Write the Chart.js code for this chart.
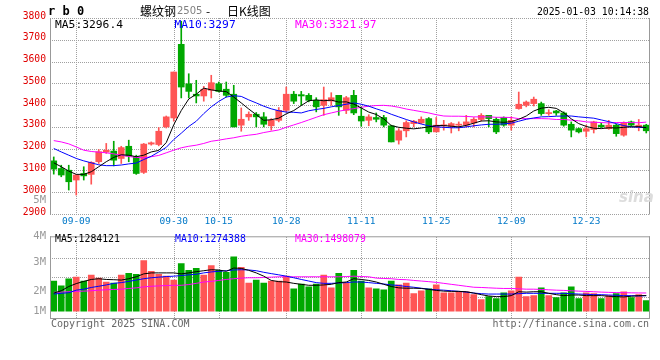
<!DOCTYPE html>
<html>
<head>
<meta charset="utf-8">
<title>rb0 螺纹钢2505 日K线图</title>
<script src="https://cdn.jsdelivr.net/npm/chart.js@4.4.1/dist/chart.umd.min.js"></script>
<style>
  body { margin: 0; background: #fff; }
  #cadre { position: relative; width: 660px; height: 360px; overflow: hidden; }
  #boxK { position: absolute; left: 0; top: 0; width: 660px; height: 232px; }
  #boxV { position: absolute; left: 0; top: 226px; width: 660px; height: 114px; }
  .txt { position: absolute; white-space: pre; font-family: 'DejaVu Sans Mono', monospace; }
</style>
</head>
<body>
<div id="cadre">
  <div id="boxK"><canvas id="graphK"></canvas></div>
  <div id="boxV"><canvas id="graphV"></canvas></div>

  <!-- En-tête -->
  <div class="txt" style="left:48px;top:5px;font-size:12px;line-height:12px;font-weight:bold">r b 0</div>
  <div class="txt" style="left:140px;top:4px;font:12px/14px 'Noto Sans CJK SC'">螺纹钢</div>
  <div class="txt" style="left:177px;top:6px;font:10px/10px 'DejaVu Sans';color:#808080">2505</div>
  <div class="txt" style="left:206px;top:4px;font:12px/14px 'Noto Sans CJK SC'">-</div>
  <div class="txt" style="left:227px;top:4px;font:12px/14px 'Noto Sans CJK SC'">日K线图</div>
  <div class="txt" style="right:11px;top:6.5px;font-size:9.8px;line-height:9.8px">2025-01-03 10:14:38</div>

  <!-- Légendes des moyennes mobiles -->
  <div class="txt" style="left:55px;top:18.6px;font-size:11.3px;line-height:11.3px;color:#000">MA5:3296.4</div>
  <div class="txt" style="left:174.5px;top:18.6px;font-size:11.3px;line-height:11.3px;color:#0000ff">MA10:3297</div>
  <div class="txt" style="left:295px;top:18.6px;font-size:11.3px;line-height:11.3px;color:#ff00ff">MA30:3321.97</div>
  <div class="txt" style="left:55px;top:234.3px;font-size:9.8px;line-height:9.8px;color:#000">MA5:1284121</div>
  <div class="txt" style="left:175px;top:234.3px;font-size:9.8px;line-height:9.8px;color:#0000ff">MA10:1274388</div>
  <div class="txt" style="left:295px;top:234.3px;font-size:9.8px;line-height:9.8px;color:#ff00ff">MA30:1498079</div>

  <div class="txt" style="right:614px;top:194px;font-size:10.5px;line-height:10.5px;color:#999">5M</div>
  <div class="txt" style="left:619px;top:190px;font:italic bold 15px/15px 'DejaVu Sans';color:#dcdcdc">sina</div>

  <!-- Pied de page -->
  <div class="txt" style="left:51px;top:318.7px;font-size:10px;line-height:10px;color:#666">Copyright 2025 SINA.COM</div>
  <div class="txt" style="right:11px;top:318.7px;font-size:10px;line-height:10px;color:#666">http://finance.sina.com.cn</div>
</div>

<script>
// Données (rb2505, séances du 09-04 au 01-03)
const dates = ['09-04','09-05','09-06','09-09','09-10','09-11','09-12','09-13','09-18','09-19',
  '09-20','09-23','09-24','09-25','09-26','09-27','09-30','10-08','10-09','10-10',
  '10-11','10-14','10-15','10-16','10-17','10-18','10-21','10-22','10-23','10-24',
  '10-25','10-28','10-29','10-30','10-31','11-01','11-04','11-05','11-06','11-07',
  '11-08','11-11','11-12','11-13','11-14','11-15','11-18','11-19','11-20','11-21',
  '11-22','11-25','11-26','11-27','11-28','11-29','12-02','12-03','12-04','12-05',
  '12-06','12-09','12-10','12-11','12-12','12-13','12-16','12-17','12-18','12-19',
  '12-20','12-23','12-24','12-25','12-26','12-27','12-30','12-31','01-02','01-03'];

const ouv = [3144,3109,3101,3056,3086,3082,3140,3184,3189,3155,
  3211,3163,3091,3221,3219,3300,3341,3679,3498,3450,
  3442,3468,3498,3473,3450,3308,3346,3358,3346,3305,
  3330,3376,3450,3448,3445,3422,3399,3419,3445,3376,
  3445,3349,3330,3343,3343,3305,3239,3282,3315,3318,
  3338,3277,3305,3303,3308,3308,3318,3334,3353,3335,
  3343,3308,3384,3399,3407,3407,3361,3373,3364,3312,
  3292,3280,3288,3308,3292,3308,3262,3323,3300,3308];

const haut = [3162,3124,3124,3082,3117,3140,3196,3224,3234,3211,
  3239,3170,3224,3231,3297,3350,3552,3785,3544,3514,
  3486,3537,3506,3506,3491,3387,3369,3366,3366,3338,
  3389,3483,3463,3463,3453,3434,3483,3457,3445,3440,
  3468,3392,3356,3364,3353,3308,3292,3328,3330,3346,
  3343,3343,3330,3320,3323,3353,3343,3361,3353,3343,
  3346,3346,3460,3419,3437,3414,3379,3376,3369,3323,
  3295,3308,3326,3318,3330,3312,3323,3327,3334,3312];

const bas = [3083,3071,3010,2987,3056,3037,3132,3178,3121,3132,
  3140,3082,3086,3216,3213,3295,3326,3433,3433,3410,
  3418,3433,3460,3437,3300,3280,3330,3300,3300,3285,
  3323,3369,3407,3399,3415,3369,3353,3399,3353,3361,
  3356,3303,3305,3323,3300,3231,3221,3254,3300,3315,
  3269,3277,3285,3272,3282,3300,3300,3327,3300,3269,
  3303,3285,3381,3392,3396,3353,3353,3353,3303,3254,
  3272,3254,3272,3297,3289,3257,3257,3303,3282,3272];

const clot = [3106,3079,3048,3079,3075,3137,3186,3193,3147,3205,
  3166,3086,3221,3227,3280,3346,3552,3483,3463,3442,
  3473,3503,3463,3445,3300,3335,3358,3346,3312,3330,
  3376,3450,3418,3442,3422,3392,3425,3434,3392,3434,
  3364,3327,3346,3335,3308,3231,3282,3320,3326,3335,
  3277,3308,3308,3315,3312,3323,3335,3353,3338,3277,
  3308,3330,3404,3414,3427,3361,3364,3364,3308,3285,
  3277,3292,3323,3300,3308,3269,3320,3308,3308,3282];

// Moyennes mobiles du prix
const ma5 = [3135,3117,3097,3082,3082,3094,3117,3140,3160,3172,
  3170,3163,3170,3185,3192,3228,3310,3375,3428,3450,
  3478,3470,3465,3462,3437,3410,3382,3356,3330,3333,
  3340,3360,3375,3398,3420,3424,3420,3423,3414,3415,
  3405,3387,3368,3357,3337,3306,3298,3294,3291,3295,
  3300,3306,3306,3303,3300,3307,3317,3327,3328,3323,
  3321,3324,3335,3350,3373,3386,3390,3385,3365,3337,
  3315,3302,3294,3292,3296,3295,3298,3300,3301,3296.4];

const ma10 = [3201,3185,3170,3155,3144,3135,3126,3122,3122,3125,
  3130,3134,3150,3165,3185,3206,3242,3271,3302,3326,
  3361,3392,3417,3437,3443,3440,3424,3410,3395,3383,
  3374,3368,3367,3364,3374,3380,3385,3392,3398,3404,
  3410,3404,3395,3383,3372,3358,3346,3334,3323,3313,
  3305,3300,3298,3296,3296,3300,3305,3309,3312,3312,
  3314,3317,3326,3335,3341,3346,3347,3349,3350,3350,
  3346,3343,3340,3332,3324,3315,3306,3300,3298,3297];

const ma30 = [3237,3231,3222,3208,3193,3187,3184,3181,3176,3170,
  3164,3160,3158,3163,3169,3181,3193,3204,3211,3216,
  3224,3234,3239,3245,3250,3257,3262,3266,3274,3280,
  3286,3298,3309,3320,3332,3344,3356,3364,3372,3378,
  3384,3390,3395,3398,3399,3396,3390,3382,3376,3370,
  3364,3356,3350,3349,3349,3348,3346,3346,3346,3344,
  3344,3343,3338,3338,3338,3338,3337,3334,3334,3331,
  3328,3323,3321,3320,3318,3320,3320,3320,3319,3321.97];

// Volumes en millions de lots
const volumes = [2.48,2.08,2.66,2.80,2.48,2.96,2.72,2.40,2.32,2.96,
  3.12,3.04,4.16,3.28,3.04,2.88,2.56,3.92,3.36,3.52,
  2.96,3.76,3.36,3.20,4.48,3.60,2.32,2.56,2.32,2.48,
  2.48,2.88,1.84,2.24,2.00,2.24,2.96,1.92,3.12,2.32,
  3.36,2.48,1.92,1.84,1.76,2.48,2.16,2.32,1.44,1.68,
  1.84,2.16,1.52,1.52,1.60,1.60,1.36,0.96,1.20,1.04,
  1.52,1.68,2.80,1.20,1.28,1.92,1.28,1.12,1.52,2.00,
  1.04,1.52,1.44,1.04,1.28,1.44,1.60,1.12,1.36,0.88];

const volMa5 = [1.49,1.68,2.03,2.27,2.45,2.61,2.67,2.61,2.59,2.56,
  2.67,2.83,3.07,3.15,3.15,3.15,3.15,3.07,3.15,3.25,
  3.33,3.41,3.39,3.28,3.55,3.52,3.36,3.15,2.88,2.53,
  2.43,2.40,2.29,2.21,2.13,2.13,2.16,2.21,2.35,2.40,
  2.67,2.61,2.53,2.40,2.21,2.03,1.92,1.89,1.89,1.87,
  1.79,1.71,1.65,1.63,1.63,1.60,1.49,1.36,1.25,1.20,
  1.20,1.28,1.60,1.57,1.60,1.60,1.47,1.36,1.28,1.33,
  1.33,1.28,1.28,1.28,1.23,1.20,1.17,1.23,1.28,1.284];

const volMa10 = [1.41,1.47,1.52,1.73,1.81,1.95,2.05,2.16,2.29,2.35,
  2.45,2.56,2.67,2.75,2.80,2.85,2.88,2.93,2.99,3.04,
  3.15,3.23,3.28,3.33,3.39,3.41,3.39,3.33,3.20,3.09,
  2.99,2.88,2.75,2.61,2.48,2.35,2.29,2.29,2.32,2.35,
  2.40,2.40,2.35,2.29,2.24,2.16,2.11,2.03,1.97,1.89,
  1.81,1.76,1.73,1.68,1.63,1.57,1.49,1.44,1.41,1.41,
  1.41,1.41,1.44,1.47,1.47,1.47,1.47,1.47,1.47,1.44,
  1.41,1.39,1.36,1.36,1.33,1.31,1.28,1.28,1.25,1.274];

const volMa30 = [1.55,1.57,1.60,1.63,1.65,1.68,1.73,1.76,1.79,1.81,
  1.87,1.92,2.00,2.05,2.08,2.11,2.13,2.13,2.19,2.29,
  2.40,2.45,2.53,2.61,2.67,2.72,2.75,2.75,2.77,2.80,
  2.83,2.83,2.83,2.83,2.83,2.83,2.83,2.83,2.83,2.85,
  2.88,2.85,2.83,2.72,2.69,2.67,2.61,2.59,2.53,2.48,
  2.43,2.37,2.29,2.21,2.13,2.05,1.97,1.95,1.92,1.89,
  1.87,1.87,1.84,1.81,1.81,1.79,1.76,1.73,1.71,1.68,
  1.65,1.63,1.60,1.57,1.55,1.53,1.52,1.51,1.50,1.498];

// Graduations
const datesAffichees = ['09-09','09-30','10-15','10-28','11-11','11-25','12-09','12-23'];
const prixTicks = [2900,3000,3100,3200,3300,3400,3500,3600,3700,3800];
const volTickLabels = ['4M','3M','2M','1M'];
const volTickVals = [6.16, 4.0, 1.6, 0];
const volGrille = [4.4, 2.8, 1.2];

const ROUGE = '#ff5555';
const VERT = '#00a800';
const GRILLE = '#a0a0a0';
const MONO = 'DejaVu Sans Mono';

const couleur = i => clot[i] >= ouv[i] ? ROUGE : VERT;

// Grille pointillée, placée via les échelles
const grillePlugin = {
  id: 'grille',
  beforeDatasetsDraw(chart, args, opts) {
    const { ctx, chartArea: a, scales } = chart;
    ctx.save();
    ctx.fillStyle = GRILLE;
    (opts.valeursY || []).forEach(v => {
      const y = Math.round(scales.y.getPixelForValue(v));
      for (let x = Math.ceil(a.left); x < a.right; x += 2) ctx.fillRect(x, y, 1, 1);
    });
    dates.forEach((d, i) => {
      if (!datesAffichees.includes(d)) return;
      const x = Math.round(scales.x.getPixelForValue(i));
      for (let y = Math.ceil(a.top); y < a.bottom; y += 2) ctx.fillRect(x, y, 1, 1);
    });
    ctx.restore();
  }
};

// Bordures pleines autour de la zone de tracé
const cadrePlugin = {
  id: 'cadre',
  afterDatasetsDraw(chart, args, opts) {
    const { ctx, chartArea: a } = chart;
    ctx.save();
    ctx.strokeStyle = opts.couleur || '#999';
    ctx.lineWidth = 1;
    ctx.beginPath();
    (opts.cotes || []).forEach(c => {
      if (c === 'gauche') { ctx.moveTo(a.left + 0.5, a.top); ctx.lineTo(a.left + 0.5, a.bottom + 0.5); }
      if (c === 'droite') { ctx.moveTo(a.right - 0.5, a.top); ctx.lineTo(a.right - 0.5, a.bottom + 0.5); }
      if (c === 'haut') { ctx.moveTo(a.left, a.top + 0.5); ctx.lineTo(a.right, a.top + 0.5); }
      if (c === 'bas') { ctx.moveTo(a.left, a.bottom + 0.5); ctx.lineTo(a.right, a.bottom + 0.5); }
    });
    ctx.stroke();
    ctx.restore();
  }
};

const ligne = (data, coul) => ({
  type: 'line', data, borderColor: coul, borderWidth: 1,
  pointRadius: 0, tension: 0, fill: false, order: 0
});

document.addEventListener('DOMContentLoaded', function() {
  // Graphique K (bougies + MA)
  new Chart(document.getElementById('graphK'), {
    type: 'bar',
    data: {
      labels: dates,
      datasets: [
        ligne(ma5, '#000000'),
        ligne(ma10, '#0000ff'),
        ligne(ma30, '#ff00ff'),
        {
          data: ouv.map((o, i) => [o, clot[i]]),
          backgroundColor: c => couleur(c.dataIndex),
          barThickness: 6, minBarLength: 1, grouped: false, borderWidth: 0, order: 1
        },
        {
          data: bas.map((b, i) => [b, haut[i]]),
          backgroundColor: c => couleur(c.dataIndex),
          barThickness: 1, grouped: false, borderWidth: 0, order: 2
        }
      ]
    },
    options: {
      responsive: true,
      maintainAspectRatio: false,
      animation: false,
      events: [],
      layout: { padding: { top: 18, right: 10, left: 0, bottom: 0 } },
      plugins: {
        legend: { display: false },
        tooltip: { enabled: false },
        grille: { valeursY: prixTicks },
        cadre: { cotes: ['gauche', 'droite'], couleur: '#999' }
      },
      scales: {
        x: {
          offset: true,
          grid: { display: false, drawTicks: false },
          border: { display: false },
          ticks: {
            autoSkip: false, maxRotation: 0, minRotation: 0, padding: 2,
            color: '#0078c8', font: { family: MONO, size: 9.5 },
            callback: (v, i) => datesAffichees.includes(dates[i]) ? dates[i] : ''
          },
          afterFit: s => { s.height = 18; }
        },
        y: {
          min: 2900, max: 3800,
          afterBuildTicks: s => { s.ticks = prixTicks.map(v => ({ value: v })); },
          grid: { display: false, drawTicks: false },
          border: { display: false },
          ticks: {
            color: '#e00000', padding: 4, labelOffset: -2, font: { family: MONO, size: 9.7 },
            callback: v => String(v)
          },
          afterFit: s => { s.width = 50; }
        }
      }
    },
    plugins: [grillePlugin, cadrePlugin]
  });

  // Graphique des volumes
  new Chart(document.getElementById('graphV'), {
    type: 'bar',
    data: {
      labels: dates,
      datasets: [
        ligne(volMa5, '#000000'),
        ligne(volMa10, '#0000ff'),
        ligne(volMa30, '#ff00ff'),
        {
          data: volumes,
          backgroundColor: c => couleur(c.dataIndex),
          barThickness: 6, borderWidth: 0, order: 1
        }
      ]
    },
    options: {
      responsive: true,
      maintainAspectRatio: false,
      animation: false,
      events: [],
      layout: { padding: { top: 8, right: 10, left: 0, bottom: 0 } },
      plugins: {
        legend: { display: false },
        tooltip: { enabled: false },
        grille: { valeursY: volGrille },
        cadre: { cotes: ['gauche', 'droite', 'haut', 'bas'], couleur: '#999' }
      },
      scales: {
        x: {
          offset: true,
          grid: { display: false, drawTicks: false },
          border: { display: false },
          ticks: { display: false, autoSkip: false },
          afterFit: s => { s.height = 22; }
        },
        y: {
          min: -0.56, max: 6.16,
          afterBuildTicks: s => { s.ticks = volTickVals.map(v => ({ value: v })); },
          grid: { display: false, drawTicks: false },
          border: { display: false },
          ticks: {
            color: '#999', padding: 4, font: { family: MONO, size: 10.5 },
            callback: (v, i) => volTickLabels[i]
          },
          afterFit: s => { s.width = 50; }
        }
      }
    },
    plugins: [grillePlugin, cadrePlugin]
  });
});
</script>
</body>
</html>
